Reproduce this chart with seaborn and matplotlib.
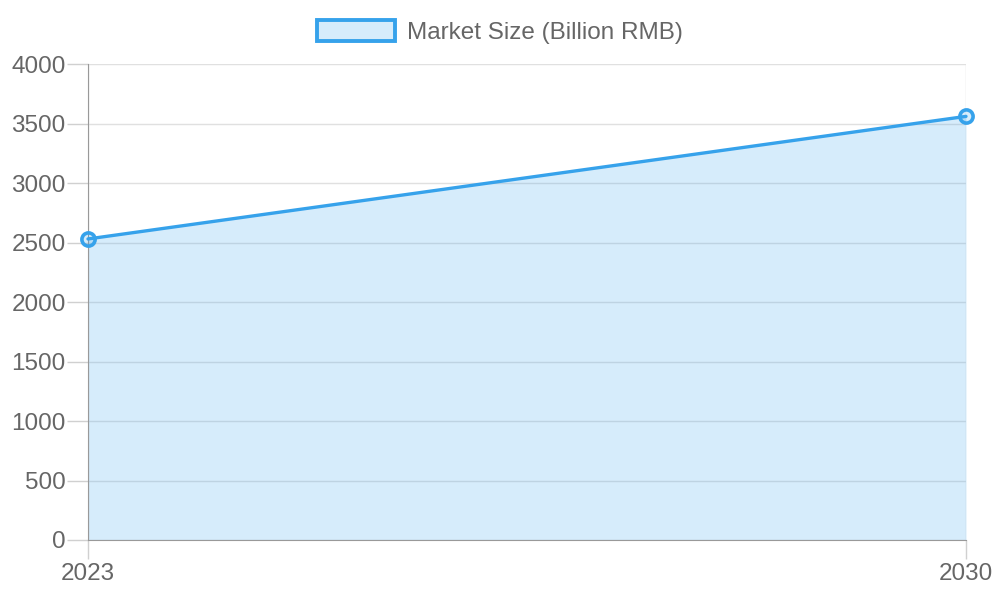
import matplotlib
matplotlib.use("Agg")
import matplotlib.pyplot as plt
from matplotlib.patches import Patch
import seaborn as sns
import pandas as pd

years = [2023, 2030]
market_size = [2530, 3560]
series_name = "Market Size (Billion RMB)"

line_color = "#36A2EB"
fill_color = (54 / 255, 162 / 255, 235 / 255, 0.2)
text_color = "#666666"

sns.set_style("white")
plt.rcParams["font.family"] = ["Liberation Sans", "DejaVu Sans"]

df = pd.DataFrame({"year": years, "value": market_size})

fig = plt.figure(figsize=(10, 6), dpi=100)
ax = fig.add_axes([0.088, 0.1, 0.878, 0.7933])

ax.fill_between(df["year"], df["value"], 0, color=fill_color, linewidth=0, zorder=1)
sns.lineplot(data=df, x="year", y="value", ax=ax, color=line_color, linewidth=2.4,
             marker="o", markersize=9.5, markerfacecolor=fill_color,
             markeredgecolor=line_color, markeredgewidth=2.6, zorder=4, clip_on=False)

ax.set_xlim(2023, 2030)
ax.set_ylim(0, 4000)
ax.set_xticks(years)
ax.set_yticks(range(0, 4001, 500))
ax.set_xlabel("")
ax.set_ylabel("")

ax.grid(True, color="#e0e0e0", linewidth=1)
ax.set_axisbelow(True)
for side in ["top", "right"]:
    ax.spines[side].set_visible(False)
ax.spines["left"].set_color("#999999")
ax.spines["bottom"].set_color("#999999")
ax.tick_params(axis="both", colors="#d0d0d0", labelcolor=text_color, labelsize=17.5,
               width=1, direction="out")
ax.tick_params(axis="x", bottom=True, length=13.5, pad=3)
ax.tick_params(axis="y", left=True, length=15, pad=1)

handle = Patch(facecolor=fill_color, edgecolor=line_color, linewidth=2.8)
fig.legend([handle], [series_name], loc="center", bbox_to_anchor=(0.5, 0.947),
           frameon=False, fontsize=17.5, labelcolor=text_color,
           handlelength=3.2, handleheight=0.95, handletextpad=0.5)

fig.savefig("out.png", dpi=100)
